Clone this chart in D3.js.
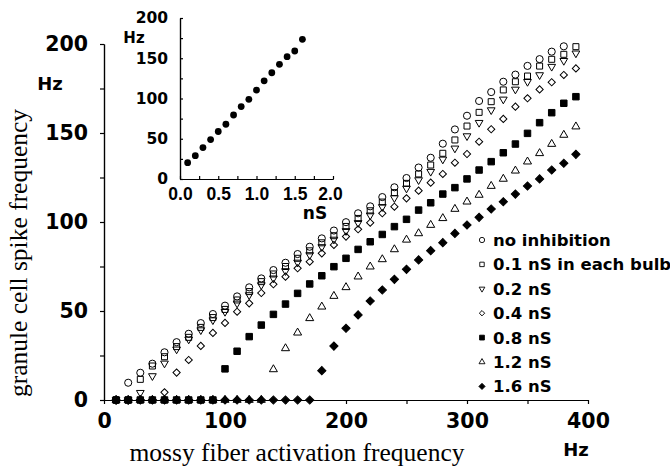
<!DOCTYPE html>
<html>
<head>
<meta charset="utf-8">
<script src="https://cdn.jsdelivr.net/npm/d3@7"></script>
<style>
  body { margin: 0; background: #fff; }
  .axis path, .axis line { stroke: #000; stroke-width: 1.2; }
  .axis text { font-family: "DejaVu Sans"; font-weight: bold; fill: #000; }
</style>
</head>
<body>
<div class="chart"></div>
<script>
// values (granule cell spike frequency, Hz)
var mossyHz = [10, 20, 30, 40, 50, 60, 70, 80, 90, 100, 110, 120, 130, 140, 150, 160, 170, 180, 190, 200,
  210, 220, 230, 240, 250, 260, 270, 280, 290, 300, 310, 320, 330, 340, 350, 360, 370, 380, 390];

var noInhibition = [0, 9.7, 15.3, 20.4, 26.8, 32.5, 37.2, 43.2, 48.3, 53, 58.2, 63.3, 68.3, 73, 77.1, 82, 86.1, 90.8, 95.2, 99.9,
  104.9, 108.8, 114, 119.5, 124.7, 130.6, 136.1, 144, 152, 159.7, 168, 173, 178.8, 182.8, 187.7, 191.5, 195.7, 198.7, null];
var nS01 = [0, 0, 11.6, 19.1, 24.3, 30, 35.2, 40.8, 46.3, 50.9, 56.2, 60.9, 66.5, 70.8, 75, 79.6, 83.8, 88.3, 92.3, 97.5,
  102, 106.3, 111.2, 116.5, 121.7, 127, 132, 138.6, 146.1, 153.9, 161.6, 167.6, 174.2, 178.8, 182, 187.6, 191.4, 194.2, 198.5];
var nS02 = [0, 0, 4.1, 13.5, 20.6, 28.5, 34.1, 39.3, 44.9, 49.6, 54.3, 59, 64.6, 68.4, 72.5, 77.3, 81.5, 86, 90.2, 95,
  99.5, 103.8, 108.5, 113.5, 118.9, 123.6, 128.3, 135.2, 141.4, 148.3, 155.8, 162.9, 168.9, 174.5, 178.8, 182.6, 187.3, 190.6, 194.8];
var nS04 = [0, 0, 0, 0, 4.3, 15.4, 22.5, 30.4, 37.7, 43.3, 49.6, 54.3, 60.1, 65, 69.3, 74, 77.7, 82.4, 87.1, 91.8,
  95.9, 99.6, 104.9, 108.6, 113.3, 117.6, 122.1, 127, 133.3, 138.2, 145.1, 152.1, 157.9, 164.8, 169.5, 174.5, 178.5, 182.6, 186.3];
var nS08 = [0, 0, 0, 0, 0, 0, 0, 0, 0, 17.5, 27.4, 35.6, 42.1, 48.1, 53.9, 59.9, 65.2, 69.8, 74.9, 79.6,
  84.6, 88.9, 93, 97.4, 101.5, 106.7, 110.8, 115.7, 119.3, 124.2, 129.2, 133.9, 138.9, 143.8, 149.8, 155.8, 161.4, 166.7, 170.4];
var nS12 = [0, 0, 0, 0, 0, 0, 0, 0, 0, 0, 0, 0, 0, 17.2, 29, 37.8, 45.9, 52.4, 58.4, 63.3,
  69.3, 74.9, 79, 84.6, 90, 93.6, 98.3, 102.1, 107.3, 111.4, 115.2, 120.2, 124.2, 128.8, 133.9, 138.6, 143.8, 148.9, 153.6];
var nS16 = [0, 0, 0, 0, 0, 0, 0, 0, 0, 0, 0, 0, 0, 0, 0, 0, 0, 16.5, 30.3, 40.3,
  47.8, 55.6, 61.8, 67.8, 73.4, 78.7, 83.9, 88.4, 93.6, 98.3, 102.6, 107.3, 111.4, 115.7, 120.2, 124.2, 129.2, 133, 138];

var legendLabels = ["no inhibition", "0.1 nS in each bulb", "0.2 nS", "0.4 nS", "0.8 nS", "1.2 nS", "1.6 nS"];

// inset: spike frequency vs conductance
var insetNs = [0.1, 0.2, 0.3, 0.4, 0.5, 0.6, 0.7, 0.8, 0.9, 1.0, 1.1, 1.2, 1.3, 1.4, 1.5, 1.6];
var insetHz = [20.3, 29, 39, 49, 59, 68, 79.5, 90, 99, 110.5, 122, 132, 142.5, 152, 159, 173.5];

var mainXTicks = [0, 100, 200, 300, 400];
var mainYTicks = [0, 50, 100, 150, 200];
var insetXTicks = [0, 0.5, 1, 1.5, 2];
var insetYTicks = [0, 50, 100, 150, 200];

// series styling
var seriesValues = [noInhibition, nS01, nS02, nS04, nS08, nS12, nS16];
var seriesShape = ["circle", "square", "triDown", "diamond", "square", "triUp", "diamond"];
var seriesFilled = [false, false, false, false, true, false, true];
var seriesSize = [40, 36, 26, 26, 42, 28, 34];

var svgWidth = 670;
var svgHeight = 470;

var svg = d3.select(".chart")
  .append("svg")
  .attr("width", svgWidth)
  .attr("height", svgHeight)
  .style("font-family", "DejaVu Sans");

var xScale = d3.scaleLinear().domain([0, 400]).range([104, 588]);
var yScale = d3.scaleLinear().domain([0, 200]).range([400, 44]);

function markerPath(shape, size) {
  var type = shape === "circle" ? d3.symbolCircle
    : (shape === "square" || shape === "diamond") ? d3.symbolSquare
    : d3.symbolTriangle;
  return d3.symbol().type(type).size(size)();
}
function markerRotation(shape) {
  if (shape === "diamond") return 45;
  if (shape === "triDown") return 180;
  return 0;
}

// main axes
svg.append("g")
  .attr("class", "axis")
  .attr("transform", "translate(0,400)")
  .call(d3.axisBottom(xScale).tickValues([50, 150, 250, 350]).tickSize(4).tickSizeOuter(0).tickFormat(""));
svg.append("g")
  .attr("class", "axis")
  .attr("transform", "translate(0,400)")
  .call(d3.axisBottom(xScale).tickValues(mainXTicks).tickSize(4).tickSizeOuter(0).tickPadding(9.5).tickFormat(d3.format("d")))
  .selectAll("text").style("font-size", "20.5px");

svg.append("g")
  .attr("class", "axis")
  .attr("transform", "translate(104,0)")
  .call(d3.axisLeft(yScale).tickValues([25, 75, 125, 175]).tickSize(4).tickSizeOuter(0).tickFormat(""));
svg.append("g")
  .attr("class", "axis")
  .attr("transform", "translate(104,0)")
  .call(d3.axisLeft(yScale).tickValues(mainYTicks).tickSize(4).tickSizeOuter(0).tickPadding(12).tickFormat(d3.format("d")))
  .selectAll("text").style("font-size", "20.5px");

// points
var plot = svg.append("g");
seriesValues.forEach(function(values, s) {
  var pts = mossyHz.map(function(hz, i) { return { x: hz, y: values[i] }; })
    .filter(function(d) { return d.y !== null; });
  plot.append("g").selectAll("path")
    .data(pts)
    .enter().append("path")
      .attr("d", markerPath(seriesShape[s], seriesSize[s]))
      .attr("transform", function(d) {
        return "translate(" + xScale(d.x) + "," + yScale(d.y) + ") rotate(" + markerRotation(seriesShape[s]) + ")";
      })
      .attr("fill", seriesFilled[s] ? "#000" : "none")
      .attr("stroke", "#000")
      .attr("stroke-width", 1);
});

// legend
var legend = svg.append("g").attr("transform", "translate(482,240)");
legendLabels.forEach(function(label, i) {
  var row = legend.append("g").attr("transform", "translate(0," + (i * 24.4) + ")");
  row.append("path")
    .attr("d", markerPath(seriesShape[i], seriesSize[i] * 0.55))
    .attr("transform", "rotate(" + markerRotation(seriesShape[i]) + ")")
    .attr("fill", seriesFilled[i] ? "#000" : "none")
    .attr("stroke", "#000")
    .attr("stroke-width", 0.9);
  row.append("text")
    .attr("x", 11)
    .attr("dy", "0.36em")
    .style("font-size", "16.5px")
    .style("font-weight", "bold")
    .text(label);
});

// axis unit labels and titles
svg.append("text").attr("x", 50).attr("y", 90).attr("text-anchor", "middle")
  .style("font-size", "18px").style("font-weight", "bold").text("Hz");
svg.append("text").attr("x", 576).attr("y", 456).attr("text-anchor", "middle")
  .style("font-size", "18px").style("font-weight", "bold").text("Hz");

svg.append("text")
  .attr("transform", "translate(27,253) rotate(-90)")
  .attr("text-anchor", "middle")
  .style("font-family", "Liberation Serif")
  .style("font-size", "25.5px")
  .text("granule cell spike frequency");
svg.append("text")
  .attr("x", 297).attr("y", 461)
  .attr("text-anchor", "middle")
  .style("font-family", "Liberation Serif")
  .style("font-size", "25.5px")
  .text("mossy fiber activation frequency");

// inset
var insetX = d3.scaleLinear().domain([0, 2]).range([180, 333]);
var insetY = d3.scaleLinear().domain([0, 200]).range([179, 18]);

svg.append("g")
  .attr("class", "axis")
  .attr("transform", "translate(0,179)")
  .call(d3.axisBottom(insetX).tickValues([0.25, 0.75, 1.25, 1.75]).tickSize(-3).tickSizeOuter(0).tickFormat(""));
var insetXAxis = svg.append("g")
  .attr("class", "axis")
  .attr("transform", "translate(0,179)")
  .call(d3.axisBottom(insetX).tickValues(insetXTicks).tickSize(-3).tickSizeOuter(0).tickPadding(9).tickFormat(d3.format(".1f")));
insetXAxis.selectAll("text")
  .style("font-family", "Liberation Sans")
  .style("font-size", "17.5px")
  .attr("dx", function(d, i) { return i === insetXTicks.length - 1 ? "-3" : "0"; });

svg.append("g")
  .attr("class", "axis")
  .attr("transform", "translate(180,0)")
  .call(d3.axisLeft(insetY).tickValues([25, 75, 125, 175]).tickSize(-3).tickSizeOuter(0).tickFormat(""));
svg.append("g")
  .attr("class", "axis")
  .attr("transform", "translate(180,0)")
  .call(d3.axisLeft(insetY).tickValues(insetYTicks).tickSize(-3).tickSizeOuter(0).tickPadding(12).tickFormat(d3.format("d")))
  .selectAll("text").style("font-size", "15.5px");

svg.append("g").selectAll("circle")
  .data(insetNs)
  .enter().append("circle")
    .attr("cx", function(d) { return insetX(d); })
    .attr("cy", function(d, i) { return insetY(insetHz[i]); })
    .attr("r", 3.4)
    .attr("fill", "#000");

svg.append("text").attr("x", 134).attr("y", 43).attr("text-anchor", "middle")
  .style("font-size", "15px").style("font-weight", "bold").text("Hz");
svg.append("text").attr("x", 315).attr("y", 219).attr("text-anchor", "middle")
  .style("font-size", "17px").style("font-weight", "bold").text("nS");
</script>
</body>
</html>
